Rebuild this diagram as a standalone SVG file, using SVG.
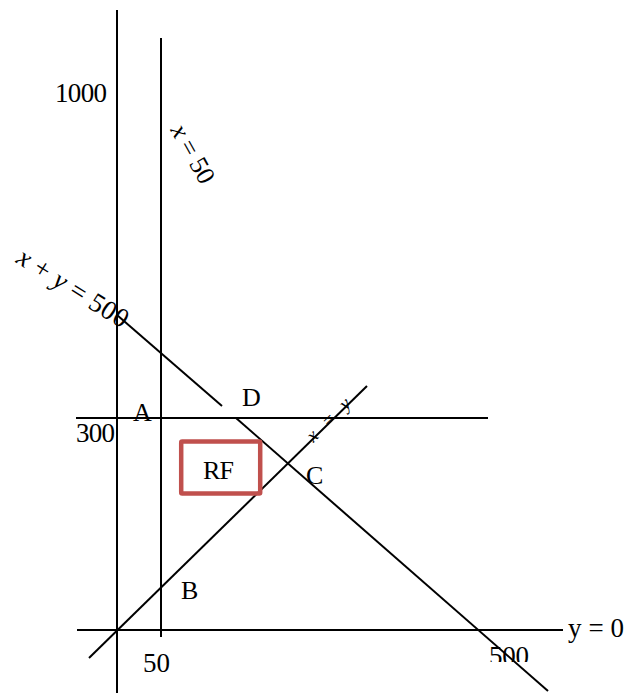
<svg xmlns="http://www.w3.org/2000/svg" width="631" height="693" viewBox="0 0 631 693">
<style>
.ln{stroke:#000;stroke-width:2;fill:none}
.t{font-family:"Liberation Serif","Times New Roman",serif;fill:#000}
.n{font-size:27px}
.l{font-size:26px}
.i{font-style:italic}
</style>
<defs>
<clipPath id="clip500"><rect x="480" y="630" width="60" height="32"/></clipPath>
</defs>
<rect width="631" height="693" fill="#fff"/>
<g id="connectors">
<line class="ln" x1="117" y1="10" x2="117" y2="693"/>
<line class="ln" x1="161" y1="38" x2="161" y2="637"/>
<line class="ln" x1="77" y1="630" x2="563" y2="630"/>
<line class="ln" x1="76" y1="418" x2="488" y2="418"/>
<line class="ln" x1="117" y1="315" x2="222" y2="406"/>
<line class="ln" x1="236" y1="418" x2="548" y2="691"/>
<line class="ln" x1="89" y1="658" x2="367" y2="386"/>
</g>
<g id="RF">
<rect x="181.2" y="441.5" width="79" height="52" rx="1" fill="none" stroke="#c0504d" stroke-width="4.5"/>
<text class="t l" x="203" y="478.5" textLength="31">RF</text>
</g>
<g id="labels">
<text class="t n" x="55" y="102" textLength="52">1000</text>
<text class="t n" x="76" y="441.5" textLength="39">300</text>
<text class="t n" x="143" y="671.5" textLength="27">50</text>
<text class="t n" x="489" y="664.5" clip-path="url(#clip500)" textLength="40">500</text>
<text class="t n" x="568" y="637" textLength="56">y = 0</text>
<text class="t l" x="133" y="421" textLength="19">A</text>
<text class="t l" x="242" y="406" textLength="18">D</text>
<text class="t l" x="306" y="483.5" textLength="17">C</text>
<text class="t l" x="181" y="598.5" textLength="16">B</text>
<text class="t n" transform="translate(15,262) rotate(32)" textLength="126"><tspan class="i">x</tspan> + <tspan class="i">y</tspan> = 500</text>
<text class="t l" transform="translate(170,130) rotate(61)" textLength="64"><tspan class="i">x</tspan> = 50</text>
<text class="t" font-size="19" transform="translate(313.5,443) rotate(-44.4)" textLength="54" lengthAdjust="spacing"><tspan class="i">x</tspan> = <tspan class="i">y</tspan></text>
</g>
</svg>
